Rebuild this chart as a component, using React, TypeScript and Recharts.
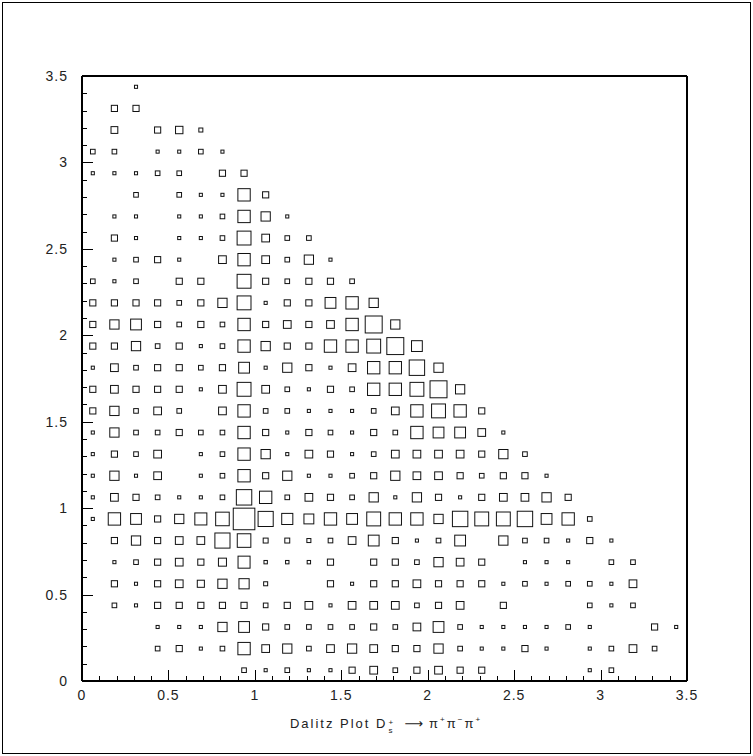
import React from 'react';
import { ScatterChart, Scatter, XAxis, YAxis, ZAxis } from 'recharts';

// bin centres, 28 bins of 0.125 on both axes
const binCenters = [
  0.0625, 0.1875, 0.3125, 0.4375, 0.5625, 0.6875, 0.8125, 0.9375, 1.0625, 1.1875,
  1.3125, 1.4375, 1.5625, 1.6875, 1.8125, 1.9375, 2.0625, 2.1875, 2.3125, 2.4375,
  2.5625, 2.6875, 2.8125, 2.9375, 3.0625, 3.1875, 3.3125, 3.4375,
];

const majorTicks = [0, 0.5, 1, 1.5, 2, 2.5, 3, 3.5];
const minorTicks = [
  0, 0.1, 0.2, 0.3, 0.4, 0.5, 0.6, 0.7, 0.8, 0.9, 1, 1.1, 1.2, 1.3, 1.4, 1.5, 1.6, 1.7,
  1.8, 1.9, 2, 2.1, 2.2, 2.3, 2.4, 2.5, 2.6, 2.7, 2.8, 2.9, 3, 3.1, 3.2, 3.3, 3.4, 3.5,
];

// cell contents, one array per y bin (bottom row first), one entry per x bin
const row00 = [0, 0, 0, 0, 0, 0, 0, 1.5, 1, 1.5, 1, 1, 2, 2.5, 1.5, 2, 2.5, 2, 2, 0, 0, 0, 0, 1, 1.5, 0, 0, 0];
const row01 = [0, 0, 0, 1.5, 2, 1, 1.5, 4, 2.5, 3, 1.5, 2.5, 3, 2.5, 2, 2, 3, 1.5, 1, 1, 2, 1, 0, 1, 1.5, 2.5, 1.5, 0];
const row02 = [0, 0, 0, 1, 1, 1, 3, 3.5, 2, 1.5, 1.5, 1.5, 1.5, 2, 1.5, 2.5, 3.5, 1.5, 1, 1, 1, 1, 1.5, 1, 0, 0, 2, 1];
const row03 = [0, 1.5, 1, 2, 2, 2, 2, 2, 1.5, 2, 2.5, 1, 2.5, 2.5, 2.5, 1.5, 2, 2.5, 0, 2, 0, 0, 0, 1.5, 1, 1.5, 0, 0];
const row04 = [0, 2, 1, 2, 2.5, 2.3, 3, 3.3, 1.3, 0, 0, 2, 1, 2, 2, 2.5, 2, 2, 2, 1, 1.5, 1, 1.5, 1.5, 1, 2.5, 0, 0];
const row05 = [0, 1, 1.5, 2, 2.5, 2, 2.6, 3.9, 1.1, 1.1, 1.1, 2, 0, 2, 2, 1.5, 3, 2.5, 2, 0, 1, 1, 1, 0, 1.5, 1.5, 0, 0];
const row06 = [0, 2, 3, 2, 2.5, 2.5, 4.9, 4.4, 1.6, 1.6, 1.3, 1.5, 2.5, 3.5, 2, 1, 1.5, 3.5, 0, 3, 1.5, 1.5, 1, 2, 1, 0, 0, 0];
const row07 = [1, 4, 3.5, 2, 3, 3.9, 4.4, 7, 4.9, 3.6, 3.2, 4, 3.5, 4.5, 4, 4, 3, 5, 4.5, 4.5, 5, 3.5, 4, 1.5, 0, 0, 0, 0];
const row08 = [1, 2.5, 2, 1.5, 1, 1, 1.5, 5, 4, 1.5, 2.5, 2, 1.5, 3, 1, 3, 2, 1, 2, 2.5, 2.5, 3, 2, 0, 0, 0, 0, 0];
const row09 = [1, 3, 1, 2.5, 0, 1, 1.5, 4, 2, 3, 1, 1, 1.5, 2, 3, 2.5, 2.5, 2, 1.5, 2, 2, 1, 0, 0, 0, 0, 0, 0];
const row10 = [1, 2, 1.5, 2.5, 0, 1, 1.5, 4, 3, 1, 2.5, 2, 1, 1.5, 2.5, 2.5, 2.5, 2.5, 2, 3, 1.5, 0, 0, 0, 0, 0, 0, 0];
const row11 = [1, 3, 1.5, 1.5, 2, 1.5, 1.5, 4, 2, 1, 2, 1.5, 1, 2, 1.5, 4, 3.5, 3.5, 2.5, 1, 0, 0, 0, 0, 0, 0, 0, 0];
const row12 = [2, 3, 1.5, 2.5, 1.5, 0, 2.5, 4, 1.5, 1.5, 1, 1, 1, 1.5, 2.5, 4, 4.5, 4, 2, 0, 0, 0, 0, 0, 0, 0, 0, 0];
const row13 = [2, 2.5, 2, 2, 2, 1, 2.5, 4.5, 2.5, 1.5, 1, 2, 1.5, 4, 4, 4.5, 5.5, 3, 0, 0, 0, 0, 0, 0, 0, 0, 0, 0];
const row14 = [1, 2.5, 1.5, 2, 2, 1.5, 2, 3.5, 1, 3, 2, 1, 2.5, 4, 4, 5, 3, 0, 0, 0, 0, 0, 0, 0, 0, 0, 0, 0];
const row15 = [2, 2, 3, 1.5, 2, 1, 1.5, 4, 3, 2, 2, 4, 4, 4.5, 5.5, 3.5, 0, 0, 0, 0, 0, 0, 0, 0, 0, 0, 0, 0];
const row16 = [2, 3, 3.5, 2, 1.5, 2, 1.5, 4, 2, 2.5, 2, 2.5, 4, 5.5, 3, 0, 0, 0, 0, 0, 0, 0, 0, 0, 0, 0, 0, 0];
const row17 = [2, 2, 2, 2, 1.5, 2, 3, 4.5, 1, 2, 2, 3.5, 4, 3, 0, 0, 0, 0, 0, 0, 0, 0, 0, 0, 0, 0, 0, 0];
const row18 = [1.5, 1, 1.5, 0, 2, 2, 0, 4.5, 2, 1.5, 2, 2, 1.5, 0, 0, 0, 0, 0, 0, 0, 0, 0, 0, 0, 0, 0, 0, 0];
const row19 = [0, 1, 1.5, 2, 1, 0, 2.5, 4, 2.5, 1.5, 3, 1, 0, 0, 0, 0, 0, 0, 0, 0, 0, 0, 0, 0, 0, 0, 0, 0];
const row20 = [0, 2, 1, 0, 1, 1, 1.5, 4.5, 2.5, 1.5, 1.5, 0, 0, 0, 0, 0, 0, 0, 0, 0, 0, 0, 0, 0, 0, 0, 0, 0];
const row21 = [0, 1, 1, 0, 1, 1, 1.5, 4, 3, 1, 0, 0, 0, 0, 0, 0, 0, 0, 0, 0, 0, 0, 0, 0, 0, 0, 0, 0];
const row22 = [0, 0, 1.5, 0, 1.5, 1, 1, 4, 2, 0, 0, 0, 0, 0, 0, 0, 0, 0, 0, 0, 0, 0, 0, 0, 0, 0, 0, 0];
const row23 = [1, 1, 1, 1.5, 1.5, 0, 2, 2, 0, 0, 0, 0, 0, 0, 0, 0, 0, 0, 0, 0, 0, 0, 0, 0, 0, 0, 0, 0];
const row24 = [1.5, 1.5, 0, 1, 1, 1.5, 1, 0, 0, 0, 0, 0, 0, 0, 0, 0, 0, 0, 0, 0, 0, 0, 0, 0, 0, 0, 0, 0];
const row25 = [0, 2.2, 0, 2, 2.4, 1.3, 0, 0, 0, 0, 0, 0, 0, 0, 0, 0, 0, 0, 0, 0, 0, 0, 0, 0, 0, 0, 0, 0];
const row26 = [0, 2, 2, 0, 0, 0, 0, 0, 0, 0, 0, 0, 0, 0, 0, 0, 0, 0, 0, 0, 0, 0, 0, 0, 0, 0, 0, 0];
const row27 = [0, 0, 1, 0, 0, 0, 0, 0, 0, 0, 0, 0, 0, 0, 0, 0, 0, 0, 0, 0, 0, 0, 0, 0, 0, 0, 0, 0];

const rows = [
  row00, row01, row02, row03, row04, row05, row06, row07, row08, row09,
  row10, row11, row12, row13, row14, row15, row16, row17, row18, row19,
  row20, row21, row22, row23, row24, row25, row26, row27,
];

const MAX_CONTENT = 7;

// box side is proportional to content, so z (area) is content squared
const cells: { x: number; y: number; z: number }[] = [];
rows.forEach((row, j) => {
  row.forEach((c, k) => {
    if (c > 0) cells.push({ x: binCenters[k], y: binCenters[j], z: c * c });
  });
});

const isMajor = (v: number) => majorTicks.some((m) => Math.abs(m - v) < 1e-6);

// inward tick marks, placed on the axes through the chart scales
const xTickMarks = minorTicks.map((v) => ({ x: v, y: 0, major: isMajor(v) }));
const yTickMarks = minorTicks.map((v) => ({ x: 0, y: v, major: isMajor(v) }));

const textColor = '#222';
const fontFamily = '"Liberation Sans", Arial, sans-serif';

const XTickMark = (props: any) => {
  const { cx, cy, payload } = props;
  const len = payload.major ? 11 : 5;
  return <rect x={Math.round(cx)} y={Math.round(cy) - len} width={1} height={len} fill="#000" />;
};

const YTickMark = (props: any) => {
  const { cx, cy, payload } = props;
  const len = payload.major ? 11 : 5;
  return <rect x={Math.round(cx)} y={Math.round(cy)} width={len} height={1} fill="#000" />;
};

const XTickLabel = (props: any) => {
  const { x, y, payload } = props;
  if (!isMajor(payload.value)) return <g />;
  return (
    <text x={x} y={y + 19} textAnchor="middle" fontSize={14} letterSpacing={1} fill={textColor} fontFamily={fontFamily}>
      {String(payload.value)}
    </text>
  );
};

const YTickLabel = (props: any) => {
  const { x, y, payload } = props;
  if (!isMajor(payload.value)) return <g />;
  return (
    <text x={x - 14} y={y + 5} textAnchor="end" fontSize={14} letterSpacing={1} fill={textColor} fontFamily={fontFamily}>
      {String(payload.value)}
    </text>
  );
};

const BoxShape = (props: any) => {
  const { cx, cy, size } = props;
  const s = Math.sqrt(Math.max(size || 0, 0));
  if (!s) return <g />;
  return (
    <rect
      x={cx - s / 2}
      y={cy - s / 2}
      width={s}
      height={s}
      fill="none"
      stroke="#111"
      strokeWidth={1}
    />
  );
};

export default function App() {
  return (
    <div style={{ position: 'absolute', left: 0, top: 0, width: 753, height: 756, background: '#fff' }}>
      <div
        style={{
          position: 'absolute',
          left: 2,
          top: 2,
          width: 749,
          height: 752,
          border: '1px solid #000',
          boxSizing: 'border-box',
        }}
      />
      <div style={{ position: 'absolute', left: 0, top: 0 }}>
        <ScatterChart width={753} height={756} margin={{ top: 66, right: 56, bottom: 45, left: 42 }}>
          <XAxis
            xAxisId="bottom"
            type="number"
            dataKey="x"
            domain={[0, 3.5]}
            ticks={minorTicks}
            interval={0}
            height={30}
            tickSize={0}
            tickMargin={0}
            tickLine={false}
            tick={<XTickLabel />}
            axisLine={{ stroke: '#000', strokeWidth: 2 }}
            allowDataOverflow
          />
          <XAxis
            xAxisId="top"
            orientation="top"
            type="number"
            domain={[0, 3.5]}
            height={10}
            tick={false}
            tickLine={false}
            axisLine={{ stroke: '#000', strokeWidth: 2 }}
          />
          <YAxis
            yAxisId="left"
            type="number"
            dataKey="y"
            domain={[0, 3.5]}
            ticks={minorTicks}
            interval={0}
            width={40}
            tickSize={0}
            tickMargin={0}
            tickLine={false}
            tick={<YTickLabel />}
            axisLine={{ stroke: '#000', strokeWidth: 2 }}
            allowDataOverflow
          />
          <YAxis
            yAxisId="right"
            orientation="right"
            type="number"
            domain={[0, 3.5]}
            width={10}
            tick={false}
            tickLine={false}
            axisLine={{ stroke: '#000', strokeWidth: 2 }}
          />
          <ZAxis dataKey="z" type="number" domain={[0, MAX_CONTENT * MAX_CONTENT]} range={[0, 466]} />
          <Scatter
            data={cells}
            xAxisId="bottom"
            yAxisId="left"
            shape={<BoxShape />}
            isAnimationActive={false}
          />
          <Scatter
            data={xTickMarks}
            xAxisId="bottom"
            yAxisId="left"
            shape={<XTickMark />}
            isAnimationActive={false}
          />
          <Scatter
            data={yTickMarks}
            xAxisId="bottom"
            yAxisId="left"
            shape={<YTickMark />}
            isAnimationActive={false}
          />
        </ScatterChart>
      </div>
      <div
        style={{
          position: 'absolute',
          left: 386,
          top: 710,
          transform: 'translateX(-50%)',
          whiteSpace: 'nowrap',
          fontFamily,
          fontSize: 13,
          lineHeight: '20px',
          letterSpacing: 2,
          color: textColor,
        }}
      >
        Dalitz Plot D
        <span style={{ position: 'relative', display: 'inline-block', width: 9, height: 10 }}>
          <span style={{ position: 'absolute', left: 1, top: -5, fontSize: 8, letterSpacing: 0 }}>+</span>
          <span style={{ position: 'absolute', left: 1, top: 3, fontSize: 8, letterSpacing: 0 }}>s</span>
        </span>
        <span style={{ margin: '0 6px 0 8px', fontFamily: '"DejaVu Sans", sans-serif', letterSpacing: 0 }}>⟶</span>
        π<sup style={{ fontSize: 8, verticalAlign: 6 }}>+</sup>π<sup style={{ fontSize: 8, verticalAlign: 6 }}>−</sup>π
        <sup style={{ fontSize: 8, verticalAlign: 6 }}>+</sup>
      </div>
    </div>
  );
}
